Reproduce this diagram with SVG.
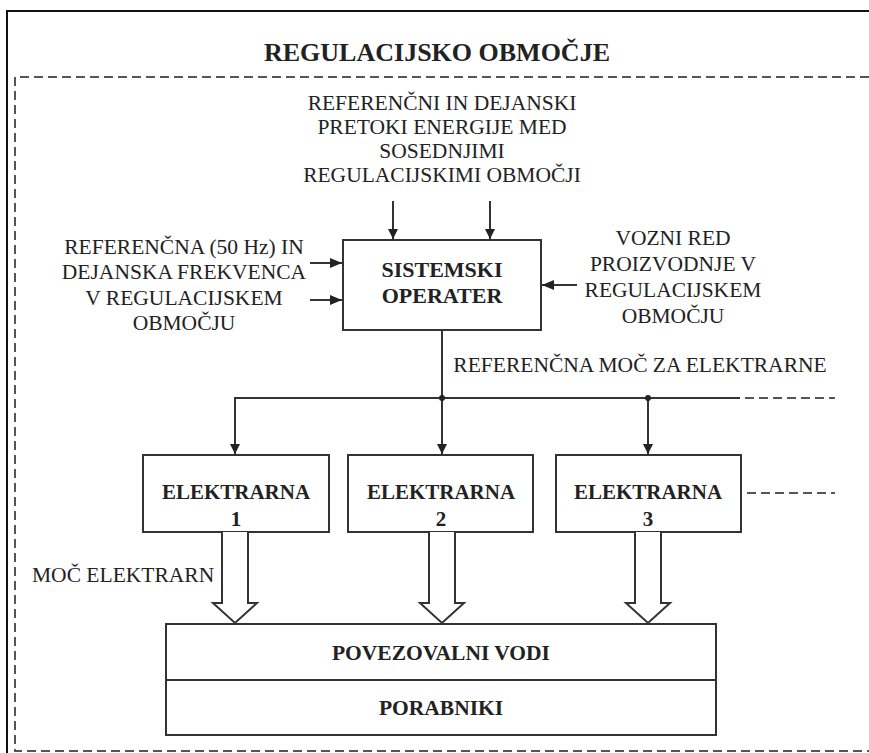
<svg xmlns="http://www.w3.org/2000/svg" width="869" height="753" viewBox="0 0 869 753">
<defs>
<style>
.t{font-family:"Liberation Serif","Times New Roman",serif;font-size:21.5px;fill:#222;text-anchor:middle}
.b{font-weight:bold}
.box{fill:#fff;stroke:#333;stroke-width:2}
.ln{fill:none;stroke:#333;stroke-width:2}
.dash{fill:none;stroke:#555;stroke-width:2;stroke-dasharray:9 5}
.hollow{fill:#fff;stroke:#333;stroke-width:2;stroke-linejoin:miter}
</style>
<marker id="ah" viewBox="0 0 10 10" refX="10" refY="5" markerWidth="10" markerHeight="10" markerUnits="userSpaceOnUse" orient="auto">
<path d="M0,0 L10,5 L0,10 z" fill="#222"/>
</marker>
<marker id="ahl" viewBox="0 0 12 10" refX="12" refY="5" markerWidth="12" markerHeight="10" markerUnits="userSpaceOnUse" orient="auto">
<path d="M0,0 L12,5 L0,10 z" fill="#222"/>
</marker>
</defs>
<rect width="869" height="753" fill="#fff"/>
<g id="frame">
<path d="M7,753 V11 H869" fill="none" stroke="#111" stroke-width="2"/>
<path d="M869,77 H15 V751 H869" class="dash" stroke="#777"/>
<text class="t b" x="437" y="61" style="font-size:26px">REGULACIJSKO OBMOČJE</text>
</g>
<g id="label-top">
<text class="t" x="442" y="110">REFERENČNI IN DEJANSKI</text>
<text class="t" x="442" y="134">PRETOKI ENERGIJE MED</text>
<text class="t" x="442" y="158">SOSEDNJIMI</text>
<text class="t" x="442" y="182">REGULACIJSKIMI OBMOČJI</text>
</g>
<g id="label-left">
<text class="t" x="184" y="254">REFERENČNA (50 Hz) IN</text>
<text class="t" x="184" y="279">DEJANSKA FREKVENCA</text>
<text class="t" x="184" y="305">V REGULACIJSKEM</text>
<text class="t" x="184" y="330">OBMOČJU</text>
</g>
<g id="label-right">
<text class="t" x="673" y="245">VOZNI RED</text>
<text class="t" x="673" y="271">PROIZVODNJE V</text>
<text class="t" x="673" y="297">REGULACIJSKEM</text>
<text class="t" x="673" y="323">OBMOČJU</text>
</g>
<g id="sistemski-operater">
<rect class="box" x="343" y="240" width="198" height="90"/>
<text class="t b" x="442" y="277" style="font-size:22px">SISTEMSKI</text>
<text class="t b" x="442" y="303" style="font-size:22px">OPERATER</text>
</g>
<g id="elektrarna-1">
<rect class="box" x="143" y="455" width="186" height="77"/>
<text class="t b" x="236" y="499" style="font-size:21px">ELEKTRARNA</text>
<text class="t b" x="236" y="526" style="font-size:21px">1</text>
</g>
<g id="elektrarna-2">
<rect class="box" x="348" y="455" width="185" height="77"/>
<text class="t b" x="441" y="499" style="font-size:21px">ELEKTRARNA</text>
<text class="t b" x="441" y="526" style="font-size:21px">2</text>
</g>
<g id="elektrarna-3">
<rect class="box" x="556" y="455" width="185" height="77"/>
<text class="t b" x="648" y="499" style="font-size:21px">ELEKTRARNA</text>
<text class="t b" x="648" y="526" style="font-size:21px">3</text>
</g>
<g id="povezovalni-vodi">
<rect class="box" x="166" y="624" width="550" height="56"/>
<text class="t b" x="441" y="660" style="font-size:21.5px">POVEZOVALNI VODI</text>
</g>
<g id="porabniki">
<rect class="box" x="166" y="680" width="550" height="55"/>
<text class="t b" x="441" y="715" style="font-size:21.5px">PORABNIKI</text>
</g>
<g id="connectors">
<line class="ln" x1="393" y1="201" x2="393" y2="239" marker-end="url(#ah)"/>
<line class="ln" x1="490" y1="201" x2="490" y2="239" marker-end="url(#ah)"/>
<line class="ln" x1="310" y1="263" x2="342" y2="263" marker-end="url(#ahl)"/>
<line class="ln" x1="310" y1="300" x2="342" y2="300" marker-end="url(#ahl)"/>
<line class="ln" x1="577" y1="285" x2="542" y2="285" marker-end="url(#ahl)"/>
<line class="ln" x1="442" y1="330" x2="442" y2="398"/>
<line class="ln" x1="234" y1="398" x2="740" y2="398"/>
<line class="ln" x1="235" y1="397" x2="235" y2="454" marker-end="url(#ah)"/>
<line class="ln" x1="442" y1="398" x2="442" y2="454" marker-end="url(#ah)"/>
<line class="ln" x1="648" y1="398" x2="648" y2="454" marker-end="url(#ah)"/>
<circle cx="442" cy="398" r="3" fill="#222"/>
<circle cx="648" cy="398" r="3" fill="#222"/>
<line class="dash" x1="745" y1="398" x2="835" y2="398"/>
<line class="dash" x1="747" y1="493" x2="835" y2="493"/>
<text class="t" x="640" y="372">REFERENČNA MOČ ZA ELEKTRARNE</text>
<path class="hollow" d="M222,532 V603 H213 L235,623 L257,603 H248 V532"/>
<path class="hollow" d="M429,532 V603 H420 L442,623 L464,603 H455 V532"/>
<path class="hollow" d="M635,532 V603 H626 L648,623 L670,603 H661 V532"/>
<text class="t" x="32" y="582" style="text-anchor:start">MOČ ELEKTRARN</text>
</g>
</svg>
